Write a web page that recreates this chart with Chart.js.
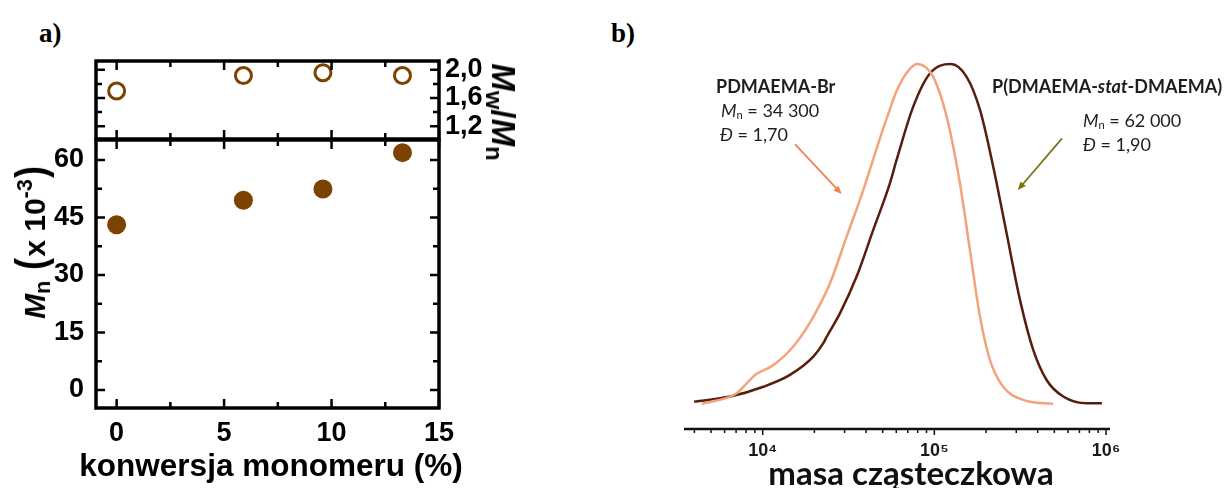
<!DOCTYPE html>
<html>
<head>
<meta charset="utf-8">
<script src="https://cdn.jsdelivr.net/npm/chart.js@4.4.1/dist/chart.umd.min.js"></script>
<style>
  body { margin: 0; background: #fff; }
  #page { position: relative; width: 1225px; height: 488px; overflow: hidden; }
  canvas { position: absolute; }
  .txt { position: absolute; white-space: nowrap; line-height: 1; }
  .tag { font: bold 27px 'Liberation Serif', 'Times New Roman', serif; }
  .ax { font: bold 30px 'Liberation Sans', Arial, sans-serif; color: #000; }
  .ax sub, .ax sup { font-size: 0.72em; line-height: 0; }
  .ax sub { vertical-align: -0.25em; }
  .ax sup { vertical-align: 0.6em; }
  .par { font-size: 42px; display: inline-block; transform: scaleX(0.85); }
  .gap { display: inline-block; width: 10px; }
  .note { font: 18px Lato, 'Open Sans', sans-serif; color: #1e1e1e; }
  .note sub { font-size: 0.62em; line-height: 0; vertical-align: -0.2em; }
  .big { font: bold 33px Lato, 'Open Sans', sans-serif; color: #111; }
</style>
</head>
<body>
<div id="page">
  <div class="txt tag" style="left:39px;top:18px">a)</div>
  <div class="txt tag" style="left:611px;top:18px">b)</div>

  <canvas id="chart-disp" width="560" height="150" style="left:0;top:0"></canvas>
  <canvas id="chart-mn" width="560" height="358" style="left:0;top:130px"></canvas>
  <canvas id="chart-sec" width="625" height="448" style="left:600px;top:40px"></canvas>

  <div class="txt ax" style="left:31px;top:242px;transform:translate(-50%,-50%) rotate(-90deg)"><i>M</i><sub>n</sub><span class="gap"></span><span class="par">(</span>x 10<sup>-3</sup><span class="par">)</span></div>
  <div class="txt ax" style="left:503px;top:112px;font-size:33px;transform:translate(-50%,-50%) rotate(90deg)"><i>M</i><sub>w</sub>/<i>M</i><sub>n</sub></div>
  <div class="txt ax" style="left:271px;top:465px;font-size:31.5px;transform:translate(-50%,-50%)">konwersja monomeru (%)</div>

  <div class="txt note" style="left:716px;top:75px"><b>PDMAEMA-Br</b></div>
  <div class="txt note" style="left:721px;top:99px"><i>M</i><sub>n</sub> = 34 300</div>
  <div class="txt note" style="left:720px;top:123px"><i>Đ</i> = 1,70</div>
  <div class="txt note" style="left:992px;top:75px"><b>P(DMAEMA-<i>stat</i>-DMAEMA)</b></div>
  <div class="txt note" style="left:1083px;top:109px"><i>M</i><sub>n</sub> = 62 000</div>
  <div class="txt note" style="left:1083px;top:133px"><i>Đ</i> = 1,90</div>
  <div class="txt big" style="left:911px;top:472px;transform:translate(-50%,-50%)">masa cząsteczkowa</div>
</div>

<script>
// a) Mn and Mw/Mn vs monomer conversion
const conversion = [0, 5.9, 9.6, 13.3]
const mnValues = [43.1, 49.5, 52.4, 61.9]
const dispValues = [1.70, 1.92, 1.96, 1.92]

const convTicks = [0, 5, 10, 15]
const convMinor = [2.5, 7.5, 12.5]
const mnTicks = [0, 15, 30, 45, 60]
const mnMinor = [7.5, 22.5, 37.5, 52.5]
const dispTicks = [1.2, 1.6, 2.0]
const dispTickLabels = ['1,2', '1,6', '2,0']
const dispMinor = [1.4, 1.8]

// b) SEC traces (normalised signal vs molar mass)
const massBr = [4420, 7060, 8070, 9020, 11530, 15070, 19720, 24660, 30830, 38550, 48190, 53700,
  60260, 69180, 79430, 89130, 98630, 118000, 140900, 161100, 184500, 210900, 251800, 329600, 492000]
const signalBr = [-0.006, 0.026, 0.055, 0.080, 0.109, 0.164, 0.252, 0.351, 0.489, 0.627, 0.78, 0.85,
  0.92, 0.975, 1.0, 0.99, 0.962, 0.844, 0.647, 0.450, 0.252, 0.124, 0.045, 0.006, -0.006]
const massStat = [3980, 6460, 10090, 14420, 19720, 22540, 23600, 28180, 35240, 44060, 55080, 60260,
  75340, 94190, 124500, 154200, 184500, 220300, 263600, 315500, 376700, 450800, 563600, 770900, 946200]
const signalStat = [0.001, 0.016, 0.045, 0.080, 0.134, 0.174, 0.193, 0.262, 0.371, 0.509, 0.647, 0.716,
  0.874, 0.972, 1.0, 0.962, 0.864, 0.696, 0.499, 0.302, 0.154, 0.065, 0.016, -0.004, -0.004]

const massTicks = [1e4, 1e5, 1e6]
const massTickLabels = ['10⁴', '10⁵', '10⁶']
const massMinor = []
for (let d = 1e3; d <= 1e5; d *= 10) {
  for (let k = 2; k <= 9; k++) massMinor.push(k * d)
}

// arrows pointing at the curves, [mass, signal]
const arrowBr = [[15420, 0.763], [28840, 0.615]]
const arrowStat = [[554600, 0.780], [306200, 0.627]]

const BROWN = '#7b4200'
const LIGHT = '#f4a27c'
const DARK = '#5a1d0c'

const tickFont = { family: 'Liberation Sans', size: 27, weight: 'bold' }
// pin axis sizes and drop the label overhang padding so the boxes line up
const fixW = w => s => { s.width = w; s.paddingTop = s.paddingBottom = 0 }
const fixH = h => s => { s.height = h; s.paddingLeft = s.paddingRight = 0 }
const setTicks = vals => s => { s.ticks = vals.map(v => ({ value: v })) }

// box frame with inward ticks on all four sides
const frameTicks = {
  id: 'frameTicks',
  afterDraw(chart, args, o) {
    const { ctx, chartArea: a } = chart
    const xs = chart.scales.x, ys = chart.scales.y
    ctx.save()
    ctx.strokeStyle = '#000'
    ctx.lineWidth = 2.5
    ctx.beginPath()
    const xt = (vals, len) => vals.forEach(v => {
      const p = xs.getPixelForValue(v)
      ctx.moveTo(p, a.bottom); ctx.lineTo(p, a.bottom - len)
      ctx.moveTo(p, a.top); ctx.lineTo(p, a.top + len)
    })
    const yt = (vals, len) => vals.forEach(v => {
      const p = ys.getPixelForValue(v)
      ctx.moveTo(a.left, p); ctx.lineTo(a.left + len, p)
      ctx.moveTo(a.right, p); ctx.lineTo(a.right - len, p)
    })
    xt(o.xMajor, 9); xt(o.xMinor, 6)
    yt(o.yMajor, 9); yt(o.yMinor, 6)
    ctx.stroke()
    ctx.lineWidth = 3.5
    ctx.strokeRect(a.left, a.top, a.width, a.height)
    ctx.restore()
  }
}

// axis line and outward ticks under the log axis, plus the two arrows
const secExtras = {
  id: 'secExtras',
  afterDraw(chart, args, o) {
    const { ctx, chartArea: a } = chart
    const xs = chart.scales.x, ys = chart.scales.y
    ctx.save()
    ctx.strokeStyle = '#111'
    ctx.lineWidth = 2.5
    ctx.beginPath()
    ctx.moveTo(a.left, a.bottom); ctx.lineTo(a.right, a.bottom)
    ctx.stroke()
    ctx.lineWidth = 1.5
    ctx.beginPath()
    massTicks.forEach(v => { const p = xs.getPixelForValue(v); ctx.moveTo(p, a.bottom); ctx.lineTo(p, a.bottom + 6) })
    massMinor.filter(v => v >= xs.min && v <= xs.max).forEach(v => {
      const p = xs.getPixelForValue(v); ctx.moveTo(p, a.bottom); ctx.lineTo(p, a.bottom + 4)
    })
    ctx.stroke()

    o.arrows.forEach(({ pts, color }) => {
      const x1 = xs.getPixelForValue(pts[0][0]), y1 = ys.getPixelForValue(pts[0][1])
      const x2 = xs.getPixelForValue(pts[1][0]), y2 = ys.getPixelForValue(pts[1][1])
      const ang = Math.atan2(y2 - y1, x2 - x1)
      ctx.strokeStyle = color
      ctx.fillStyle = color
      ctx.lineWidth = 1.8
      ctx.beginPath()
      ctx.moveTo(x1, y1)
      ctx.lineTo(x2 - 6 * Math.cos(ang), y2 - 6 * Math.sin(ang))
      ctx.stroke()
      ctx.beginPath()
      ctx.moveTo(x2, y2)
      ctx.lineTo(x2 - 9 * Math.cos(ang - 0.4), y2 - 9 * Math.sin(ang - 0.4))
      ctx.lineTo(x2 - 9 * Math.cos(ang + 0.4), y2 - 9 * Math.sin(ang + 0.4))
      ctx.closePath()
      ctx.fill()
    })
    ctx.restore()
  }
}

const base = {
  responsive: false,
  animation: false,
  events: [],
}
const quiet = { legend: { display: false }, tooltip: { enabled: false } }

// top box: Mw/Mn, open circles
new Chart(document.getElementById('chart-disp'), {
  type: 'scatter',
  data: {
    datasets: [{
      data: conversion.map((x, i) => ({ x, y: dispValues[i] })),
      pointRadius: 8,
      borderWidth: 3,
      borderColor: BROWN,
      backgroundColor: '#fff',
    }]
  },
  options: {
    ...base,
    layout: { padding: { left: 96, top: 61, right: 0, bottom: 0 } },
    plugins: { ...quiet, frameTicks: { xMajor: convTicks, xMinor: convMinor, yMajor: dispTicks, yMinor: dispMinor } },
    scales: {
      x: {
        type: 'linear', min: -0.96, max: 15,
        ticks: { display: false },
        grid: { display: false, drawTicks: false },
        border: { display: false },
        afterFit: fixH(10),
      },
      y: {
        type: 'linear', position: 'right', min: 1.0175, max: 2.126,
        afterBuildTicks: setTicks(dispTicks),
        ticks: { callback: v => dispTickLabels[dispTicks.indexOf(v)], font: tickFont, color: '#000', padding: 6 },
        grid: { display: false, drawTicks: false },
        border: { display: false },
        afterFit: fixW(121),
      }
    }
  },
  plugins: [frameTicks]
})

// bottom box: Mn, filled circles
new Chart(document.getElementById('chart-mn'), {
  type: 'scatter',
  data: {
    datasets: [{
      data: conversion.map((x, i) => ({ x, y: mnValues[i] })),
      pointRadius: 9.5,
      borderWidth: 0,
      backgroundColor: BROWN,
    }]
  },
  options: {
    ...base,
    layout: { padding: { left: 0, top: 10, right: 121, bottom: 0 } },
    plugins: { ...quiet, frameTicks: { xMajor: convTicks, xMinor: convMinor, yMajor: mnTicks, yMinor: mnMinor } },
    scales: {
      x: {
        type: 'linear', min: -0.96, max: 15,
        afterBuildTicks: setTicks(convTicks),
        ticks: { font: tickFont, color: '#000', padding: 9, maxRotation: 0 },
        grid: { display: false, drawTicks: false },
        border: { display: false },
        afterFit: fixH(80),
      },
      y: {
        type: 'linear', min: -4.7, max: 65.2,
        afterBuildTicks: setTicks(mnTicks),
        ticks: { font: tickFont, color: '#000', padding: 12 },
        grid: { display: false, drawTicks: false },
        border: { display: false },
        afterFit: fixW(96),
      }
    }
  },
  plugins: [frameTicks]
})

// b) SEC curves on a log mass axis
new Chart(document.getElementById('chart-sec'), {
  type: 'line',
  data: {
    datasets: [
      {
        label: 'PDMAEMA-Br',
        data: massBr.map((m, i) => ({ x: m, y: signalBr[i] })),
        borderColor: LIGHT,
        borderWidth: 2.5,
        pointRadius: 0,
        cubicInterpolationMode: 'monotone',
        clip: false,
      },
      {
        label: 'P(DMAEMA-stat-DMAEMA)',
        data: massStat.map((m, i) => ({ x: m, y: signalStat[i] })),
        borderColor: DARK,
        borderWidth: 2.5,
        pointRadius: 0,
        cubicInterpolationMode: 'monotone',
        clip: false,
      }
    ]
  },
  options: {
    ...base,
    layout: { padding: { left: 84, right: 115, top: 24, bottom: 0 } },
    plugins: {
      ...quiet,
      secExtras: { arrows: [{ pts: arrowBr, color: '#ec8450' }, { pts: arrowStat, color: '#7d7414' }] }
    },
    scales: {
      x: {
        type: 'logarithmic', min: 3480, max: 1.055e6,
        afterBuildTicks: setTicks(massTicks),
        ticks: { callback: v => massTickLabels[massTicks.indexOf(v)], font: { family: 'Liberation Sans', size: 18, weight: 'bold' }, color: '#1a1a1a', padding: 11, maxRotation: 0 },
        grid: { display: false, drawTicks: false },
        border: { display: false },
        afterFit: fixH(59),
      },
      y: { type: 'linear', display: false, min: -0.08, max: 1 }
    }
  },
  plugins: [secExtras]
})
</script>
</body>
</html>
